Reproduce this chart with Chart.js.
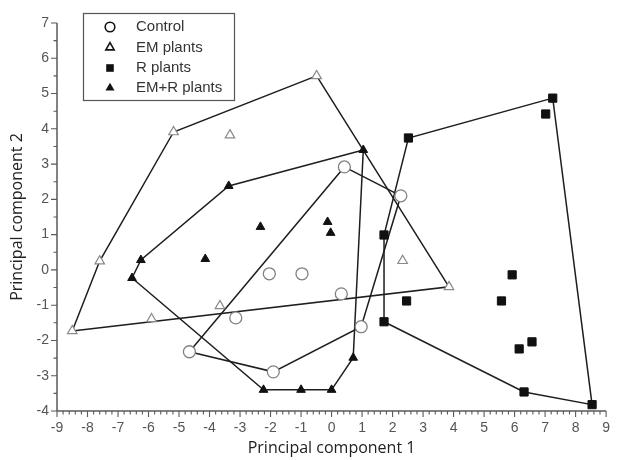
<!DOCTYPE html>
<html><head><meta charset="utf-8">
<script src="https://cdn.jsdelivr.net/npm/chart.js@4.4.1/dist/chart.umd.min.js"></script>
<style>html,body{margin:0;padding:0;background:#fff}#wrap{width:619px;height:460px;position:relative}</style>
</head><body><div id="wrap"><canvas id="c" width="619" height="460"></canvas></div>
<script>
// ---- data ----
const xTicks = [-9,-8,-7,-6,-5,-4,-3,-2,-1,0,1,2,3,4,5,6,7,8,9];
const yTicks = [-4,-3,-2,-1,0,1,2,3,4,5,6,7];
const seriesNames = ['Control','EM plants','R plants','EM+R plants'];

const controlX = [-2.04,-0.97,-3.14,-4.66,-1.91,0.42,2.27,0.32,0.97];
const controlY = [-0.11,-0.11,-1.36,-2.32,-2.89,2.92,2.10,-0.68,-1.61];

const emX = [-0.49,-5.18,-3.33,-7.60,-8.50,-5.90,-3.66,3.85,2.33];
const emY = [5.50,3.91,3.82,0.25,-1.73,-1.39,-1.02,-0.48,0.26];

const rX = [7.25,7.02,2.52,1.72,5.92,5.57,2.46,1.72,6.57,6.15,6.31,8.54];
const rY = [4.87,4.42,3.74,0.99,-0.14,-0.88,-0.88,-1.47,-2.04,-2.24,-3.46,-3.82];

const emrX = [-3.37,-2.33,-0.13,-0.03,-4.14,-6.25,-6.54,-2.23,-1.00,0.00,1.04,0.71];
const emrY = [2.38,1.22,1.36,1.05,0.31,0.28,-0.23,-3.40,-3.40,-3.40,3.40,-2.49];

// ---- helpers ----
function pts(xs, ys){ return xs.map((x,i)=>({x:x, y:ys[i]})); }
function hull(p){
  const a = p.slice().sort((u,v)=>u.x-v.x || u.y-v.y);
  const cr = (o,b,c)=>(b.x-o.x)*(c.y-o.y)-(b.y-o.y)*(c.x-o.x);
  const lo=[], up=[];
  for(const q of a){ while(lo.length>=2 && cr(lo[lo.length-2],lo[lo.length-1],q)<=0) lo.pop(); lo.push(q); }
  for(let i=a.length-1;i>=0;i--){ const q=a[i]; while(up.length>=2 && cr(up[up.length-2],up[up.length-1],q)<=0) up.pop(); up.push(q); }
  const h = lo.slice(0,-1).concat(up.slice(0,-1));
  h.push(h[0]);
  return h;
}

const groups = [
  {name:seriesNames[0], data:pts(controlX,controlY), style:'circle', r:6, bg:'#ffffff', bc:'#808080', bw:1.3},
  {name:seriesNames[1], data:pts(emX,emY), style:'triangle', r:5.5, bg:'#ffffff', bc:'#8a8a8a', bw:1.2},
  {name:seriesNames[2], data:pts(rX,rY), style:'rect', r:5.8, bg:'#111111', bc:'#111111', bw:1},
  {name:seriesNames[3], data:pts(emrX,emrY), style:'triangle', r:5, bg:'#111111', bc:'#111111', bw:1}
];

const datasets = [];
groups.forEach(g=>{
  datasets.push({label:g.name, data:g.data, showLine:false, pointStyle:g.style, pointRadius:g.r,
    pointBackgroundColor:g.bg, pointBorderColor:g.bc, pointBorderWidth:g.bw, order:0});
});
groups.forEach(g=>{
  datasets.push({label:g.name+' hull', data:hull(g.data), showLine:true, pointRadius:0, borderColor:'#1e1e1e',
    borderWidth:1.5, fill:false, tension:0, order:1});
});

const axisPlugin = {
  id:'axesTicks',
  afterDraw(chart){
    const ctx = chart.ctx, xs = chart.scales.x, ys = chart.scales.y;
    const ax = xs.left, ay = ys.bottom;
    ctx.save();
    ctx.strokeStyle = '#5a5a5a'; ctx.lineWidth = 1.5;
    ctx.beginPath();
    ctx.moveTo(ax, ys.top); ctx.lineTo(ax, ay);
    ctx.moveTo(ax, ay); ctx.lineTo(xs.right, ay);
    ctx.stroke();
    ctx.lineWidth = 1.1;
    ctx.beginPath();
    for(let i=0;i<=90;i++){
      const v = -9 + i*0.2; const px = xs.getPixelForValue(v);
      const major = (i%5===0);
      ctx.moveTo(px, ay); ctx.lineTo(px, ay + (major?6:3.5));
    }
    for(let i=0;i<=22;i++){
      const v = -4 + i*0.5; const py = ys.getPixelForValue(v);
      const major = (i%2===0);
      ctx.moveTo(ax, py); ctx.lineTo(ax - (major?6:3.5), py);
    }
    ctx.stroke();
    ctx.restore();
  }
};

function sym(ctx, style, x, y, r, fill){
  ctx.beginPath();
  if(style==='circle'){ ctx.arc(x,y,r,0,Math.PI*2); }
  else if(style==='rect'){ ctx.rect(x-r,y-r,2*r,2*r); }
  else { ctx.moveTo(x, y-r); ctx.lineTo(x+r*0.87, y+r*0.5); ctx.lineTo(x-r*0.87, y+r*0.5); ctx.closePath(); }
  if(fill){ ctx.fill(); } else { ctx.stroke(); }
}

const legendPlugin = {
  id:'boxLegend',
  afterDraw(chart){
    const ctx = chart.ctx;
    ctx.save();
    ctx.fillStyle = '#fff';
    ctx.fillRect(83,13,151,87);
    ctx.strokeStyle = '#555'; ctx.lineWidth = 1.2;
    ctx.strokeRect(83.5,13.5,151,87);
    const rows = [27,47.5,68,88];
    const st = [['circle',4.8,false],['triangle',4.8,false],['rect',3.8,true],['triangle',5.2,true]];
    ctx.fillStyle = '#111'; ctx.strokeStyle = '#111'; ctx.lineWidth = 1.6;
    rows.forEach((y,i)=>{ sym(ctx, st[i][0], 110, y, st[i][1], st[i][2]); });
    ctx.font = '15px "Liberation Sans", Arial, sans-serif';
    ctx.fillStyle = '#333'; ctx.textBaseline = 'middle'; ctx.textAlign = 'left';
    rows.forEach((y,i)=>{ ctx.fillText(seriesNames[i], 136, y); });
    ctx.restore();
  }
};

const tickFont = {family:'"Liberation Sans", Arial, sans-serif', size:14};
new Chart(document.getElementById('c'), {
  type:'scatter',
  data:{datasets:datasets},
  options:{
    responsive:false, animation:false, devicePixelRatio:1,
    layout:{padding:{left:0,right:5,top:23,bottom:0}},
    plugins:{legend:{display:false}, tooltip:{enabled:false}},
    scales:{
      x:{type:'linear', min:-9, max:9,
        afterBuildTicks:s=>{ s.ticks = xTicks.map(v=>({value:v})); },
        grid:{display:false, drawTicks:false}, border:{display:false},
        ticks:{padding:9, font:tickFont, color:'#555', maxRotation:0, autoSkip:false},
        title:{display:true, text:'Principal component 1', font:{family:'"Open Sans", sans-serif', size:16}, color:'#222', padding:{top:0,bottom:2}},
        afterFit:s=>{ s.height = 49; }
      },
      y:{type:'linear', min:-4, max:7,
        afterBuildTicks:s=>{ s.ticks = yTicks.map(v=>({value:v})); },
        grid:{display:false, drawTicks:false}, border:{display:false},
        ticks:{padding:8, font:tickFont, color:'#555', autoSkip:false},
        title:{display:true, text:'Principal component 2', font:{family:'"Open Sans", sans-serif', size:16}, color:'#222', padding:{top:8,bottom:0}},
        afterFit:s=>{ s.width = 57; }
      }
    }
  },
  plugins:[axisPlugin, legendPlugin]
});
</script></body></html>
